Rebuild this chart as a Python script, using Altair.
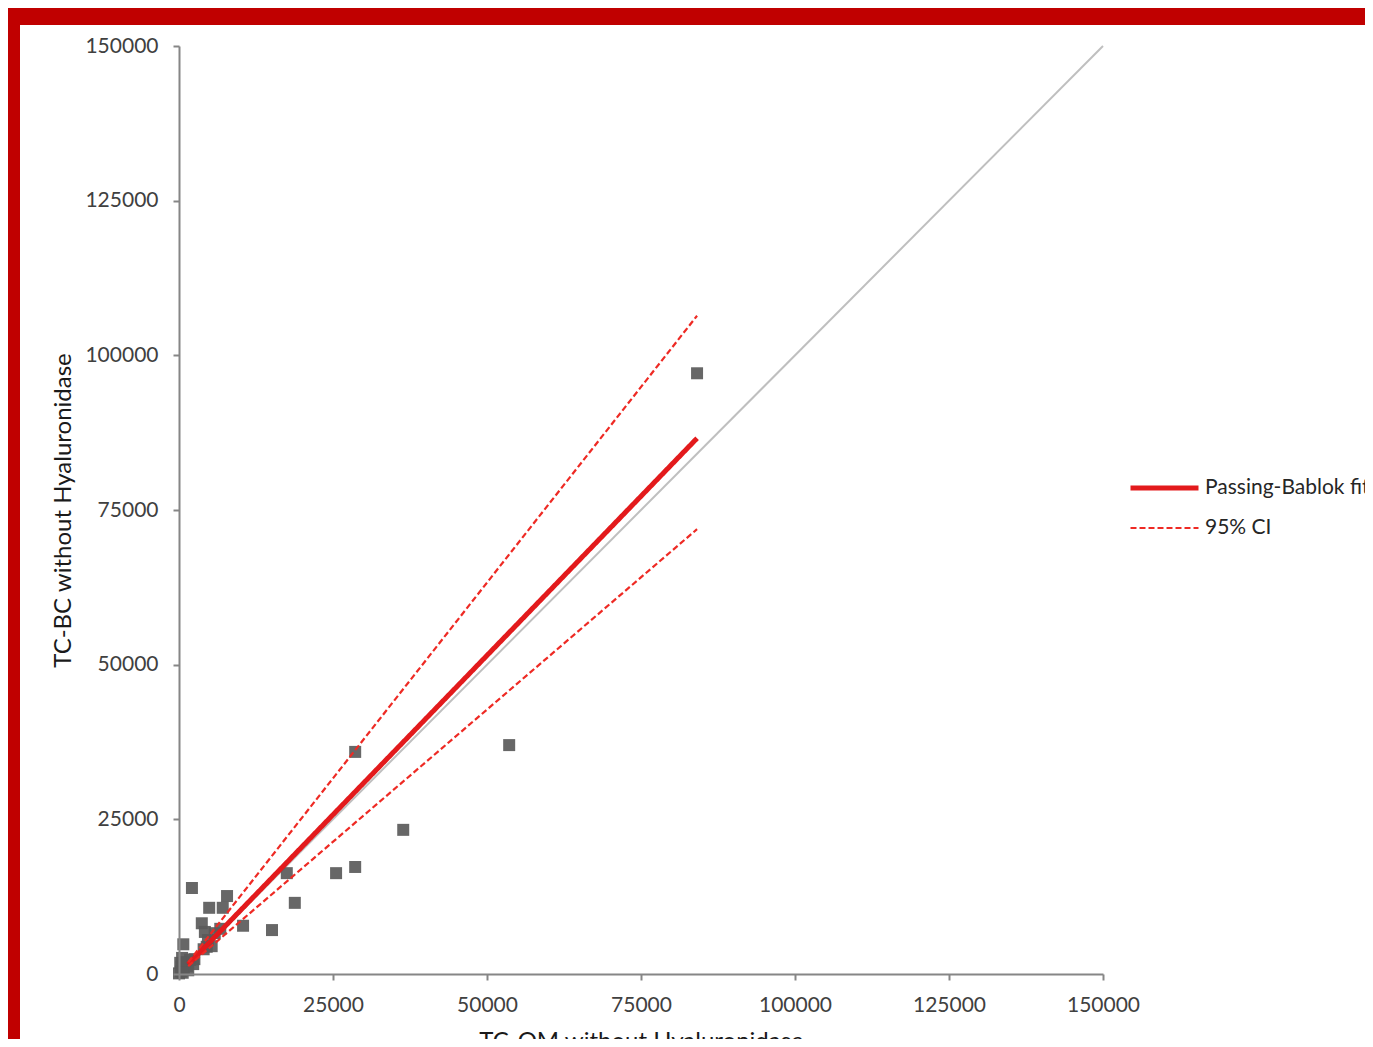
import altair as alt
import pandas as pd

# Measured points (TC-OM vs TC-BC, without Hyaluronidase)
x_vals = [84100, 53600, 28600, 36400, 28600, 25500, 17500, 18800, 15100, 10400,
          7800, 7100, 4900, 2100, 3700, 4200, 6700, 5800, 4700, 5300,
          4500, 4000, 700, 500, 2300, 1800, 1300, 1000, 800, 400,
          300, 0, 1500, 200, 2500, 600]
y_vals = [97100, 37000, 35900, 23300, 17300, 16300, 16300, 11500, 7100, 7800,
          12600, 10700, 10700, 13900, 8200, 6800, 7300, 6600, 5500, 4500,
          4400, 4000, 4800, 2600, 1600, 2300, 1300, 1900, 800, 1200,
          400, 100, 600, 1800, 2400, 200]

# Regression lines (endpoints)
line_x = [1500, 84100]
fit_y = [1550, 86600]
ci_upper_y = [1900, 106400]
ci_lower_y = [1280, 71900]
identity_xy = [0, 150000]

legend_names = ["Passing-Bablok fit", "95% CI"]
tick_values = [0, 25000, 50000, 75000, 100000, 125000, 150000]

pts = pd.DataFrame({"x": x_vals, "y": y_vals})
lines = pd.DataFrame({
    "x": line_x * 3,
    "y": fit_y + ci_upper_y + ci_lower_y,
    "kind": [legend_names[0]] * 2 + [legend_names[1]] * 4,
    "line": ["fit"] * 2 + ["upper"] * 2 + ["lower"] * 2,
})
ident = pd.DataFrame({"x": identity_xy, "y": identity_xy})

FONT = "Lato"
xscale = alt.Scale(domain=[0, 150000], nice=False)
yscale = alt.Scale(domain=[0, 150000], nice=False)

xaxis = alt.Axis(values=tick_values, format="d", grid=False, tickSize=6,
                 labelPadding=14, labelFontSize=21, labelFont=FONT,
                 labelColor="#404040", domainColor="#868686", tickColor="#868686",
                 domainWidth=2, tickWidth=2, title="TC-OM without Hyaluronidase",
                 titleFont=FONT, titleFontSize=24, titleFontWeight="normal",
                 titleColor="#1a1a1a", titleY=55, labelFlush=False, zindex=1)
yaxis = alt.Axis(values=tick_values, format="d", grid=False, tickSize=6,
                 labelPadding=15, labelFontSize=21, labelFont=FONT,
                 labelColor="#404040", domainColor="#868686", tickColor="#868686",
                 domainWidth=2, tickWidth=2, title="TC-BC without Hyaluronidase",
                 titleFont=FONT, titleFontSize=24, titleFontWeight="normal",
                 titleColor="#1a1a1a", titleX=-109, titleBaseline="alphabetic",
                 labelFlush=False, zindex=1)

# White panel on red frame (decoration)
panel = alt.Chart(pd.DataFrame({"a": [0]})).mark_rect(color="white").encode(
    x=alt.value(-159), x2=alt.value(1400), y=alt.value(-21), y2=alt.value(1200)
)

identity_line = alt.Chart(ident).mark_line(color="#bfbfbf", strokeWidth=2).encode(
    x=alt.X("x:Q", scale=xscale, axis=xaxis),
    y=alt.Y("y:Q", scale=yscale, axis=yaxis),
)

points = alt.Chart(pts).mark_square(size=144, color="#5a5a5a", opacity=0.92).encode(
    x=alt.X("x:Q", scale=xscale),
    y=alt.Y("y:Q", scale=yscale),
)

legend = alt.Legend(title=None, orient="none", legendX=949, legendY=430,
                    symbolType="stroke", symbolSize=4624, labelFont=FONT,
                    labelFontSize=21, labelColor="#262626", labelOffset=4,
                    labelLimit=500, clipHeight=24, rowPadding=16)

reg = alt.Chart(lines).mark_line().encode(
    x=alt.X("x:Q", scale=xscale),
    y=alt.Y("y:Q", scale=yscale),
    detail="line:N",
    color=alt.Color("kind:N", scale=alt.Scale(domain=legend_names,
                                              range=["#e31a1c", "#ee2a24"]),
                    legend=legend),
    strokeDash=alt.StrokeDash("kind:N", scale=alt.Scale(domain=legend_names,
                                                        range=[[1, 0], [6, 3]]),
                              legend=legend),
    strokeWidth=alt.StrokeWidth("kind:N", scale=alt.Scale(domain=legend_names,
                                                          range=[5, 2.2]),
                                legend=legend),
)

chart = alt.layer(panel, identity_line, points, reg).properties(
    width=924, height=928,
    autosize=alt.AutoSizeParams(type="none"),
    padding={"left": 171, "top": 38, "right": 262, "bottom": 65},
    background="#c00000",
).configure_view(stroke=None)

chart.save("out.html", embed_options={"renderer": "svg", "actions": False})
